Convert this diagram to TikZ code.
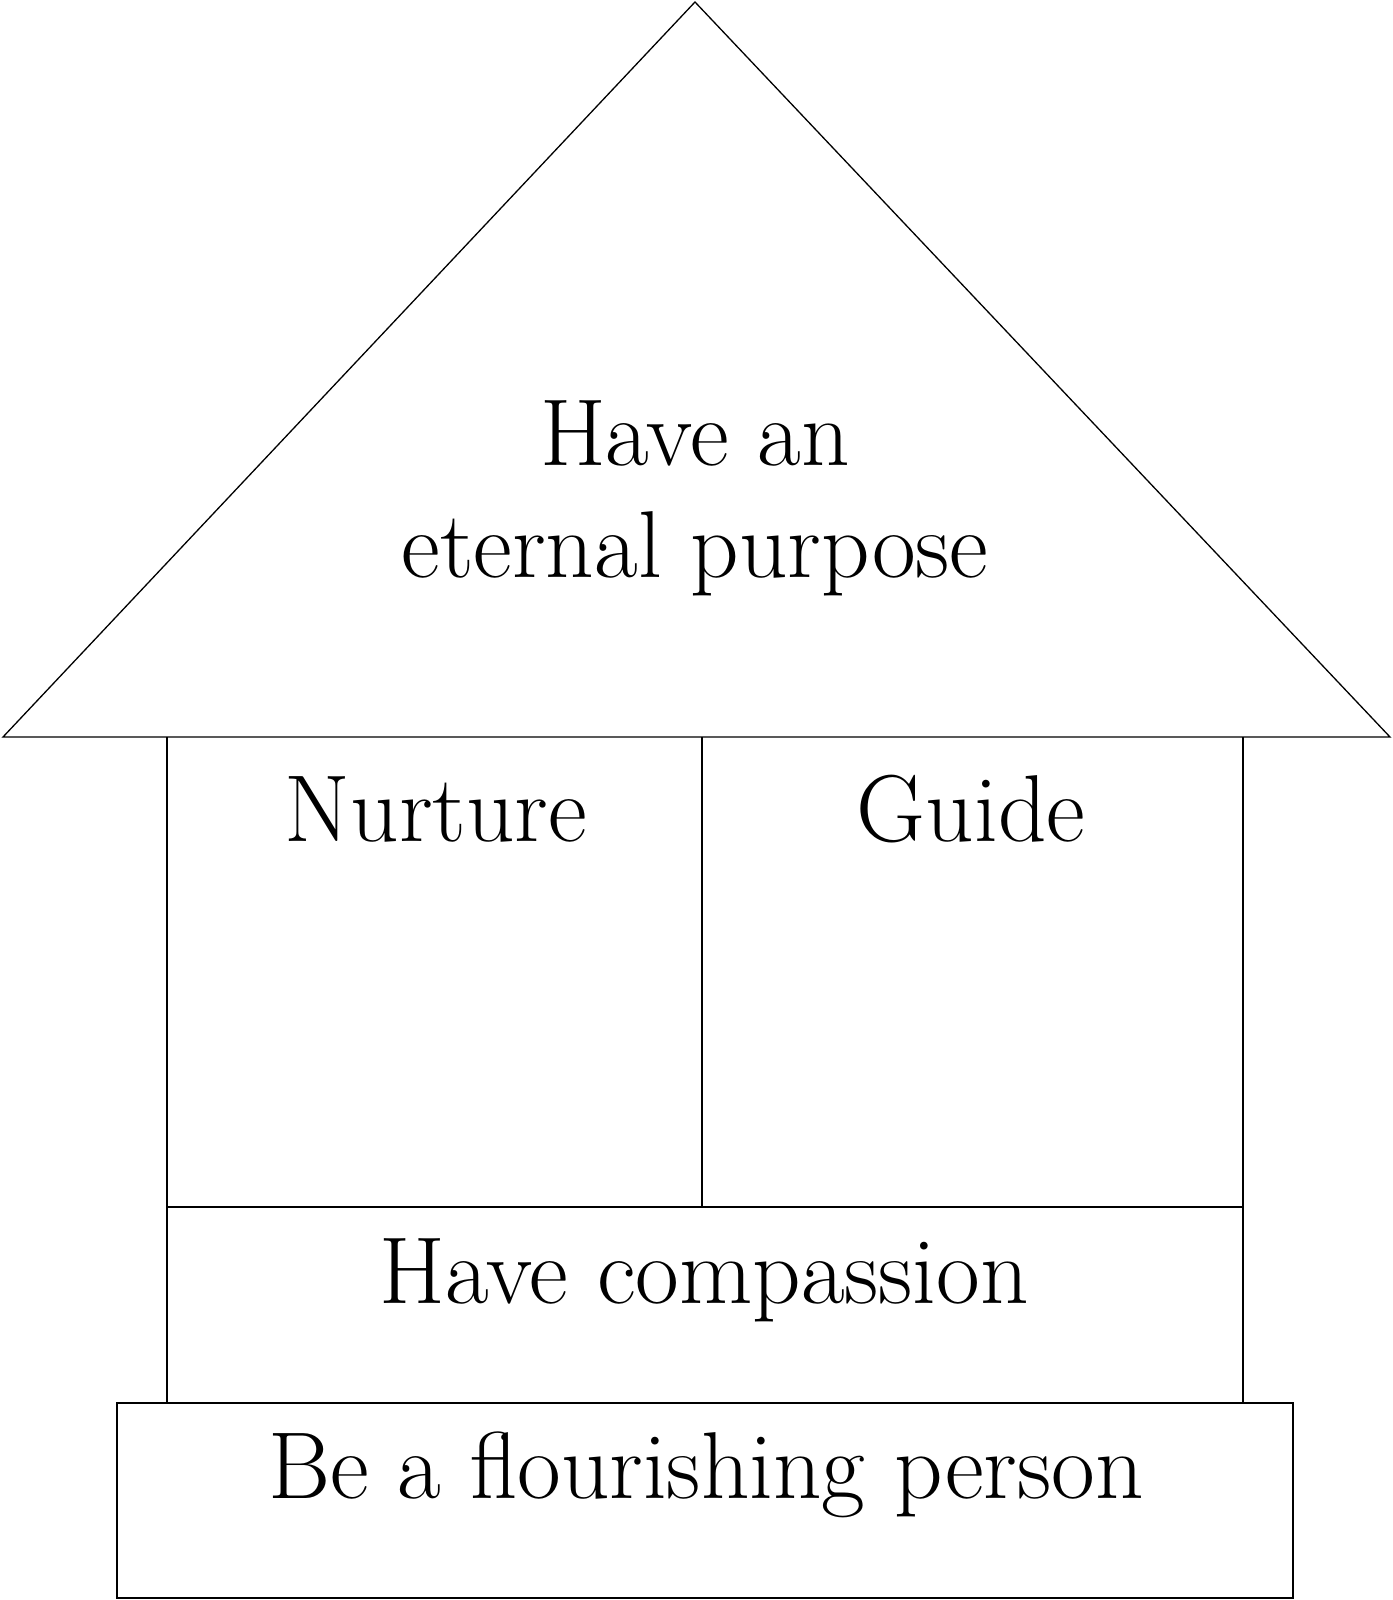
\documentclass[tikz,border=0pt]{standalone}
\usepackage{fontspec}
\usepackage{tikz}

\begin{document}
\begin{tikzpicture}[x=1pt, y=-1pt]
        \tikzstyle{every node}=[font=\fontsize{95}{112}\selectfont, inner sep=0pt, anchor=base, align=center]
        \tikzstyle{wall}=[line width=1.3pt, line join=miter]

        \useasboundingbox (0,0) rectangle (1392,1600);

        % roof
        \coordinate (apex)  at (695,2);
        \coordinate (roofL) at (3,737);
        \coordinate (roofR) at (1390,737);
        \draw[wall] (roofL) -- (apex) -- (roofR) -- cycle;

        % walls and rooms
        \coordinate (wallL) at (167,737);
        \coordinate (wallR) at (1243,737);
        \coordinate (mid)   at (702,737);
        \draw[wall] (wallL) -- (167,1403)
                    (wallR) -- (1243,1403)
                    (mid) -- (702,1207)
                    (167,1207) -- (1243,1207);

        % foundation
        \draw[wall] (117,1403) rectangle (1293,1598);

        \node (purpose)   at (695,577)  {Have an\\eternal purpose};
        \node (nurture)   at (436,841)  {Nurture};
        \node (guide)     at (971,841)  {Guide};
        \node (compassion) at (704,1303) {Have compassion};
        \node (flourish)  at (706,1498) {Be a flourishing person};

    \end{tikzpicture}
\end{document}
